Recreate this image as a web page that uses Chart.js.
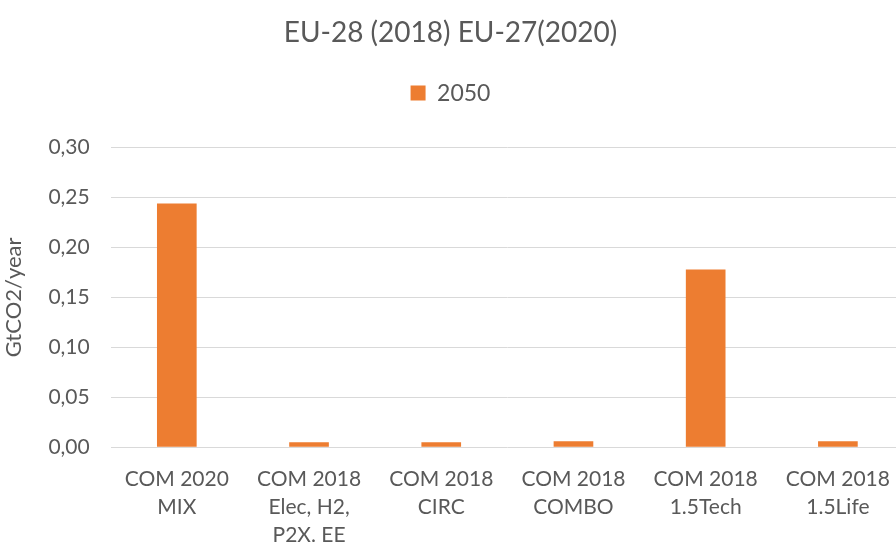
<!DOCTYPE html>
<html>
<head>
<meta charset="utf-8">
<script src="https://cdn.jsdelivr.net/npm/chart.js@4"></script>
<style>
  html, body { margin: 0; padding: 0; background: #fff; overflow: hidden; }
  #wrap { width: 904px; height: 543px; }
</style>
</head>
<body>
<div id="wrap"><canvas id="myChart"></canvas></div>
<script>
// categories and values
const categories = [
    ['COM 2020', 'MIX'],
    ['COM 2018', 'Elec, H2,', 'P2X. EE'],
    ['COM 2018', 'CIRC'],
    ['COM 2018', 'COMBO'],
    ['COM 2018', '1.5Tech'],
    ['COM 2018', '1.5Life']
];
const values2050 = [0.244, 0.005, 0.005, 0.006, 0.178, 0.006];
const yTicks = [0, 0.05, 0.10, 0.15, 0.20, 0.25, 0.30];

const grey = '#595959';
Chart.defaults.font.family = 'Lato, "Open Sans", sans-serif';

// push the plot down a bit below the legend
const legendGap = {
    id: 'legendGap',
    beforeInit(chart) {
        const fit = chart.legend.fit;
        chart.legend.fit = function () {
            fit.bind(chart.legend)();
            this.height += 33;
        };
    }
};

const data = {
    labels: categories,
    datasets: [{
        label: '2050',
        data: values2050,
        backgroundColor: '#ed7d31',
        categoryPercentage: 1,
        barPercentage: 0.3
    }]
};

const config = {
    type: 'bar',
    data: data,
    plugins: [legendGap],
    options: {
        responsive: true,
        maintainAspectRatio: false,
        animation: false,
        layout: { padding: { top: 14, left: -3, right: 0, bottom: -16 } },
        plugins: {
            title: {
                display: true,
                text: 'EU-28 (2018) EU-27(2020)',
                color: grey,
                font: { size: 28, weight: 'normal' },
                padding: { top: 2, bottom: 22 }
            },
            legend: {
                labels: {
                    color: grey,
                    font: { size: 23 },
                    boxWidth: 15,
                    boxHeight: 15,
                    padding: 10
                }
            },
            tooltip: { enabled: false }
        },
        scales: {
            x: {
                grid: { display: false },
                border: { display: false },
                ticks: {
                    color: grey,
                    font: { size: 21, lineHeight: 1.33 },
                    maxRotation: 0,
                    autoSkip: false,
                    padding: 10
                }
            },
            y: {
                min: 0,
                max: 0.3,
                afterBuildTicks: axis => { axis.ticks = yTicks.map(v => ({ value: v })); },
                grid: { color: '#d9d9d9', drawTicks: false },
                border: { display: false },
                title: {
                    display: true,
                    text: 'GtCO2/year',
                    color: grey,
                    font: { size: 22 },
                    padding: { bottom: 0 }
                },
                ticks: {
                    color: grey,
                    font: { size: 21 },
                    padding: 21,
                    callback: v => v.toFixed(2).replace('.', ',')
                }
            }
        }
    }
};

const myChart = new Chart(document.getElementById('myChart'), config);
</script>
</body>
</html>
